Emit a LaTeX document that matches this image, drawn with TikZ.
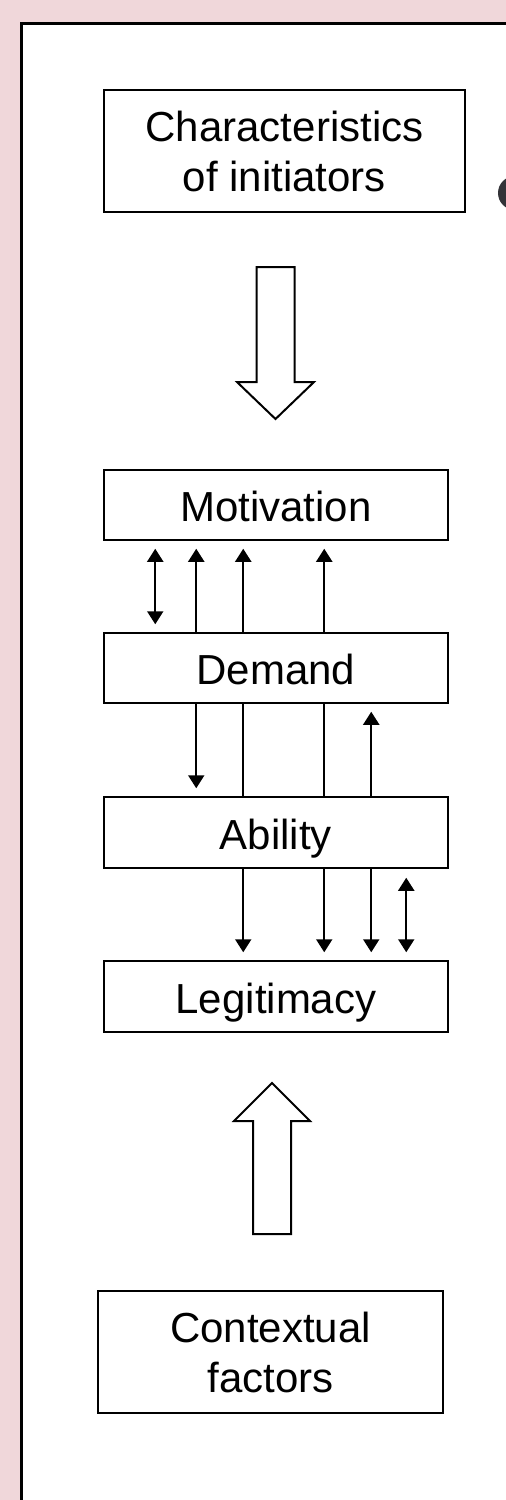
\documentclass[tikz,border=0pt]{standalone}
\usepackage{fontspec}
\setmainfont{Liberation Sans}
\definecolor{bgpink}{RGB}{240,215,218}
\definecolor{glyphgray}{RGB}{51,51,56}
\usetikzlibrary{arrows.meta,positioning}

\begin{document}
\begin{tikzpicture}[x=0.5pt,y=-0.5pt,
  box/.style={draw, line width=0.75pt, fill=white, minimum width=172pt, minimum height=35pt, inner sep=0pt, font=\fontsize{21pt}{25pt}\selectfont, text height=21pt, text depth=4.2pt},
  twobox/.style={draw, line width=0.75pt, fill=white, minimum height=61pt, inner sep=0pt, align=center, font=\fontsize{21pt}{25pt}\selectfont},
  link/.style={line width=1pt, >={Triangle[width=8pt,length=6.5pt]}},
  hollow/.style={draw, line width=1pt, fill=white, line join=miter}]
  \useasboundingbox (0,0) rectangle (506,1500);

  % slide background and frame
  \fill[bgpink] (0,0) rectangle (506,1500);
  \fill[white] (21,23.5) rectangle (506,1500);
  \draw[line width=1.5pt] (21,1500) -- (21,23.5) -- (506,23.5);
  \begin{scope}
    \clip (0,0) rectangle (506,1500);
    \fill[glyphgray] (515,193) circle[radius=8.5pt];
  \end{scope}

  % boxes
  \node[twobox, minimum width=180.5pt] (chars) at (284.5,151) {Characteristics\\of initiators};
  \node[box] (mot) at (276,505) {Motivation};
  \node[box] (dem) at (276,668) {Demand};
  \node[box, minimum height=35.5pt] (abi) at (276,832.5) {Ability};
  \node[box, minimum height=35.5pt] (leg) at (276,996.5) {Legitimacy};
  \node[twobox, minimum width=172.5pt] (ctx) at (270.5,1352) {Contextual\\factors};

  % block arrows
  \draw[hollow] (256.5,267) -- (294.5,267) -- (294.5,382) -- (314,382) -- (275.5,419) -- (237,382) -- (256.5,382) -- cycle;
  \draw[hollow] (253,1234) -- (291,1234) -- (291,1121) -- (310,1121) -- (272,1083) -- (234,1121) -- (253,1121) -- cycle;

  % Motivation - Demand
  \draw[link,<->,shorten <=4pt,shorten >=4pt] ([xshift=26pt]mot.south west) -- ([xshift=26pt]dem.north west);
  \foreach \dx in {46.5,70,110.5}
    \draw[link,->,shorten >=4pt] ([xshift=\dx pt]dem.north west) -- ([xshift=\dx pt]mot.south west);

  % Demand - Ability
  \draw[link,->,shorten >=4pt] ([xshift=46.5pt]dem.south west) -- ([xshift=46.5pt]abi.north west);
  \foreach \dx in {70,110.5}
    \draw[link] ([xshift=\dx pt]dem.south west) -- ([xshift=\dx pt]abi.north west);
  \draw[link,->,shorten >=4pt] ([xshift=134pt]abi.north west) -- ([xshift=134pt]dem.south west);

  % Ability - Legitimacy
  \foreach \dx in {70,110.5,134}
    \draw[link,->,shorten >=4pt] ([xshift=\dx pt]abi.south west) -- ([xshift=\dx pt]leg.north west);
  \draw[link,<->,shorten <=4.5pt,shorten >=4pt] ([xshift=151.5pt]abi.south west) -- ([xshift=151.5pt]leg.north west);
\end{tikzpicture}
\end{document}
